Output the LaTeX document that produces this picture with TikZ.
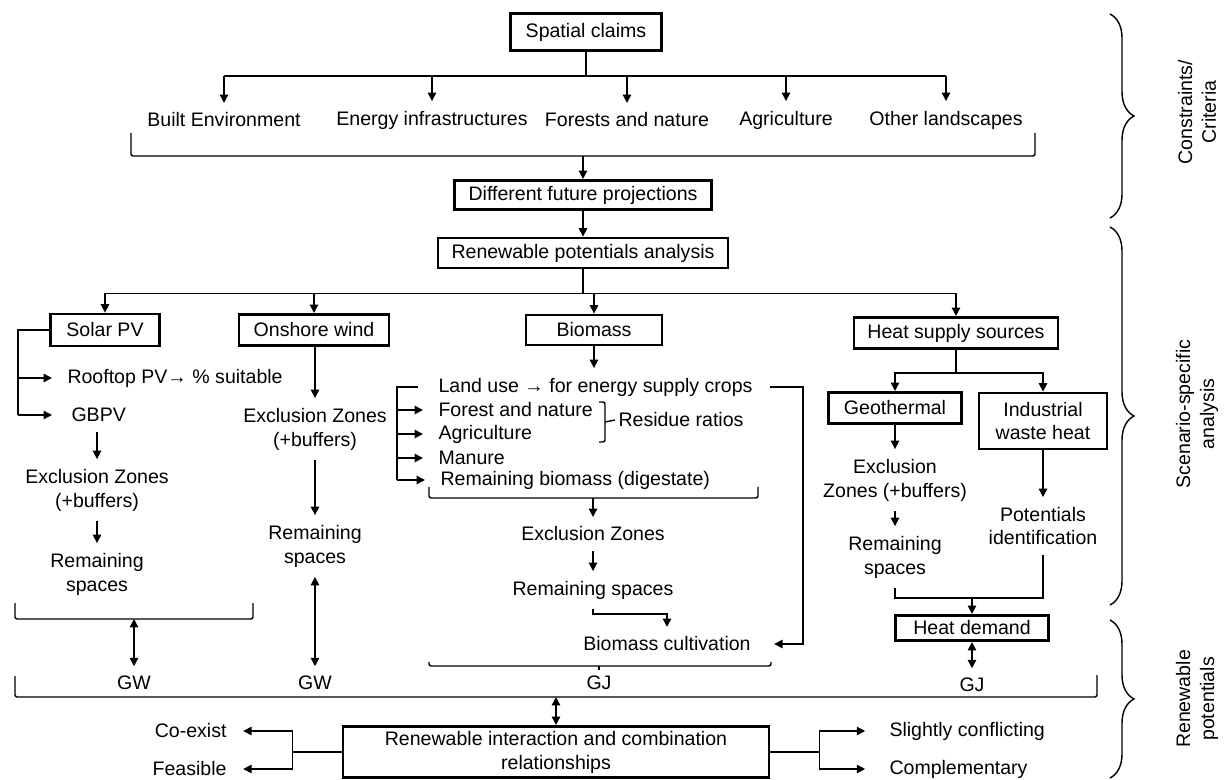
\documentclass[tikz,border=0pt]{standalone}
\usepackage{fontspec}
\setmainfont{Liberation Sans}
\usetikzlibrary{arrows.meta,decorations.pathreplacing}

\tikzset{
    box/.style={draw, line width=2pt, inner sep=0pt, align=center},
    txt/.style={inner xsep=2pt, inner ysep=6.5pt, align=center},
    bracket/.style={rounded corners=1.5pt},
    curly/.style={decorate, decoration={brace, amplitude=0.6cm}},
}

\begin{document}
\begin{tikzpicture}[x=0.025cm, y=-0.025cm, line width=1pt, >={Triangle[length=6pt,width=6pt]}, font=\fontsize{13.9}{17}\selectfont]
\useasboundingbox (0,0) rectangle (1224,780);

\node[box, minimum width=3.78cm, minimum height=0.93cm] (claims) at (586,32) {Spatial claims};
\node[txt] (built) at (224,120) {Built Environment};
\node[txt] (energy) at (432,120) {Energy infrastructures};
\node[txt] (forests) at (627,120) {Forests and nature};
\node[txt] (agri) at (786,120) {Agriculture};
\node[txt] (other) at (946,120) {Other landscapes};
\node[box, minimum width=6.43cm, minimum height=0.73cm] (future) at (583,195) {Different future projections};
\node[box, minimum width=7.25cm, minimum height=0.75cm] (analysis) at (583,253) {Renewable potentials analysis};

\node[box, minimum width=2.73cm, minimum height=0.8cm] (solar) at (105,330) {Solar PV};
\node[box, minimum width=3.75cm, minimum height=0.78cm] (wind) at (314,330) {Onshore wind};
\node[box, minimum width=3.4cm, minimum height=0.75cm] (biomass) at (594,330) {Biomass};
\node[box, minimum width=5.1cm, minimum height=0.78cm] (heat) at (956,333) {Heat supply sources};

\node[txt, anchor=west] (rooftop) at (64,378) {Rooftop PV→ \% suitable};
\node[txt, anchor=west] (gbpv) at (68,415) {GBPV};
\node[txt] (sexcl) at (97,490) {Exclusion Zones\\(+buffers)};
\node[txt] (srem) at (97,574) {Remaining\\spaces};
\node[txt] (gw1) at (134,683) {GW};

\node[txt] (wexcl) at (315,429) {Exclusion Zones\\(+buffers)};
\node[txt] (wrem) at (315,546) {Remaining\\spaces};
\node[txt] (gw2) at (315,683) {GW};

\node[txt, anchor=west] (landuse) at (435,387) {Land use → for energy supply crops};
\node[txt, anchor=west] (forest) at (435,410) {Forest and nature};
\node[txt, anchor=west] (agric) at (435,434) {Agriculture};
\node[txt, anchor=west] (manure) at (435,458) {Manure};
\node[txt, anchor=west] (digest) at (437,480) {Remaining biomass (digestate)};
\node[txt, anchor=west] (residue) at (615,420) {Residue ratios};
\node[txt] (bexcl) at (593,534) {Exclusion Zones};
\node[txt] (brem) at (593,590) {Remaining spaces};
\node[txt] (cult) at (667,644) {Biomass cultivation};
\node[txt] (gj1) at (599,683) {GJ};

\node[box, minimum width=3.33cm, minimum height=0.78cm] (geo) at (895,408) {Geothermal};
\node[box, minimum width=3.2cm, minimum height=1.4cm] (waste) at (1043,421) {Industrial\\waste heat};
\node[txt] (gexcl) at (895,480) {Exclusion\\Zones (+buffers)};
\node[txt] (grem) at (895,557) {Remaining\\spaces};
\node[txt] (pot) at (1043,526) {Potentials\\identification};
\node[box, minimum width=3.83cm, minimum height=0.63cm] (demand) at (972,628) {Heat demand};
\node[txt] (gj2) at (972,685) {GJ};

\node[box, minimum width=10.65cm, minimum height=1.28cm] (interact) at (556,752) {Renewable interaction and combination\\relationships};
\node[txt, anchor=east] (coexist) at (230,731) {Co-exist};
\node[txt, anchor=east] (feasible) at (230,769) {Feasible};
\node[txt, anchor=west] (slight) at (886,731) {Slightly conflicting};
\node[txt, anchor=west] (compl) at (886,769) {Complementary};

\node[rotate=90, align=center] (lcrit) at (1197,112) {Constraints/\\Criteria};
\node[rotate=90, align=center] (lscen) at (1197,414) {Scenario-specific\\analysis};
\node[rotate=90, align=center] (lpot) at (1197,699) {Renewable\\potentials};

\coordinate (hub) at (586,76);
\draw (claims.south) -- (hub);
\draw (built.north |- hub) -- (other.north |- hub);
\foreach \n in {built,energy,forests,agri,other}{%
    \draw[->] (\n.north |- hub) -- (\n.north);
}
\draw[bracket] (131,133) -- (131,156) -- (1035,156) -- (1035,133);
\coordinate (cbr) at (583,156);
\draw[->] (cbr) -- (future.north);
\draw[->] (future.south) -- (analysis.north);

\draw (analysis.south) -- ++(0,24) coordinate (split);
\draw (solar.north |- split) -- (heat.north |- split);
\foreach \n in {solar,wind,biomass,heat}{%
    \draw[->] (\n.north |- split) -- (\n.north);
}

\draw (solar.west) -- ++(-31,0) coordinate (sbar) -- (sbar |- gbpv);
\draw[->, shorten >=0.3cm] (sbar |- rooftop) -- (rooftop.west);
\draw[->, shorten >=0.4cm] (sbar |- gbpv) -- (gbpv.west);
\draw[->] (sexcl.north |- gbpv.south) -- (sexcl.north);
\draw[->] (sexcl.south) -- (srem.north);
\draw[bracket] (15,603) -- (15,619) -- (253,619) -- (253,603);
\coordinate (sbr) at (134,619);
\draw[<->] (sbr) -- (gw1.north);

\draw[->] (wind.south -| wexcl) -- (wexcl.north);
\draw[->] (wexcl.south) -- (wrem.north);
\draw[<->] (wrem.south) -- (gw2.north);

\draw[->] (biomass.south) -- (biomass.south |- landuse.north);
\coordinate (bbar) at (397,387);
\draw (bbar |- digest) -- (bbar) -- ++(21,0);
\foreach \n in {forest,agric,manure,digest}{%
    \draw[->, shorten >=0.3cm] (bbar |- \n) -- (\n.west);
}
\draw[bracket] (599,402) -- (605,402) -- (605,442) -- (599,442);
\draw (605,422) -- (residue.west);
\coordinate (lbar2) at (803,387);
\draw[->, shorten <=0.35cm] (landuse.east) -- (lbar2) |- ([xshift=0.5cm]cult.east);
\draw[bracket] (429,487) -- (429,498) -- (758,498) -- (758,487);
\coordinate (bbr) at (593,498);
\draw[->] (bbr) -- (bexcl.north);
\draw[->] (bexcl.south) -- (brem.north);
\draw[->] (brem.south) -- ++(0,5) -| (cult.north);
\draw[bracket] (429,662) -- (429,666) -- (771,666) -- (771,662);
\draw (599,666) -- (599,670);

\draw (heat.south) -- ++(0,23) coordinate (hsplit);
\draw[->] (hsplit) -| (geo.north);
\draw[->] (hsplit) -| (waste.north);
\draw[->] (geo.south) -- (gexcl.north);
\draw[->] (gexcl.south) -- (grem.north);
\draw[->] (waste.south) -- (pot.north);
\coordinate (hmerge) at (972,598);
\draw (grem.south) |- (hmerge) -| (pot.south);
\draw[->] (hmerge) -- (demand.north);
\draw[<->] (demand.south) -- (gj2.north);

\draw[bracket] (15,676) -- (15,697) -- (1097,697) -- (1097,675);
\coordinate (bigbr) at (556,697);
\draw[<->] (bigbr) -- (interact.north);

\draw (interact.west) -- ++(-49,0) coordinate (lbar);
\draw (lbar |- coexist) -- (lbar |- feasible);
\draw[->] (lbar |- coexist) -- ([xshift=0.33cm]coexist.east);
\draw[->] (lbar |- feasible) -- ([xshift=0.33cm]feasible.east);
\draw (interact.east) -- ++(49,0) coordinate (rbar);
\draw (rbar |- slight) -- (rbar |- compl);
\draw[->] (rbar |- slight) -- ([xshift=-0.52cm]slight.west);
\draw[->] (rbar |- compl) -- ([xshift=-0.52cm]compl.west);

\draw[curly] (1110,14) -- (1110,218);
\draw[curly] (1110,227) -- (1110,605);
\draw[curly] (1110,620) -- (1110,778);
\end{tikzpicture}
\end{document}
